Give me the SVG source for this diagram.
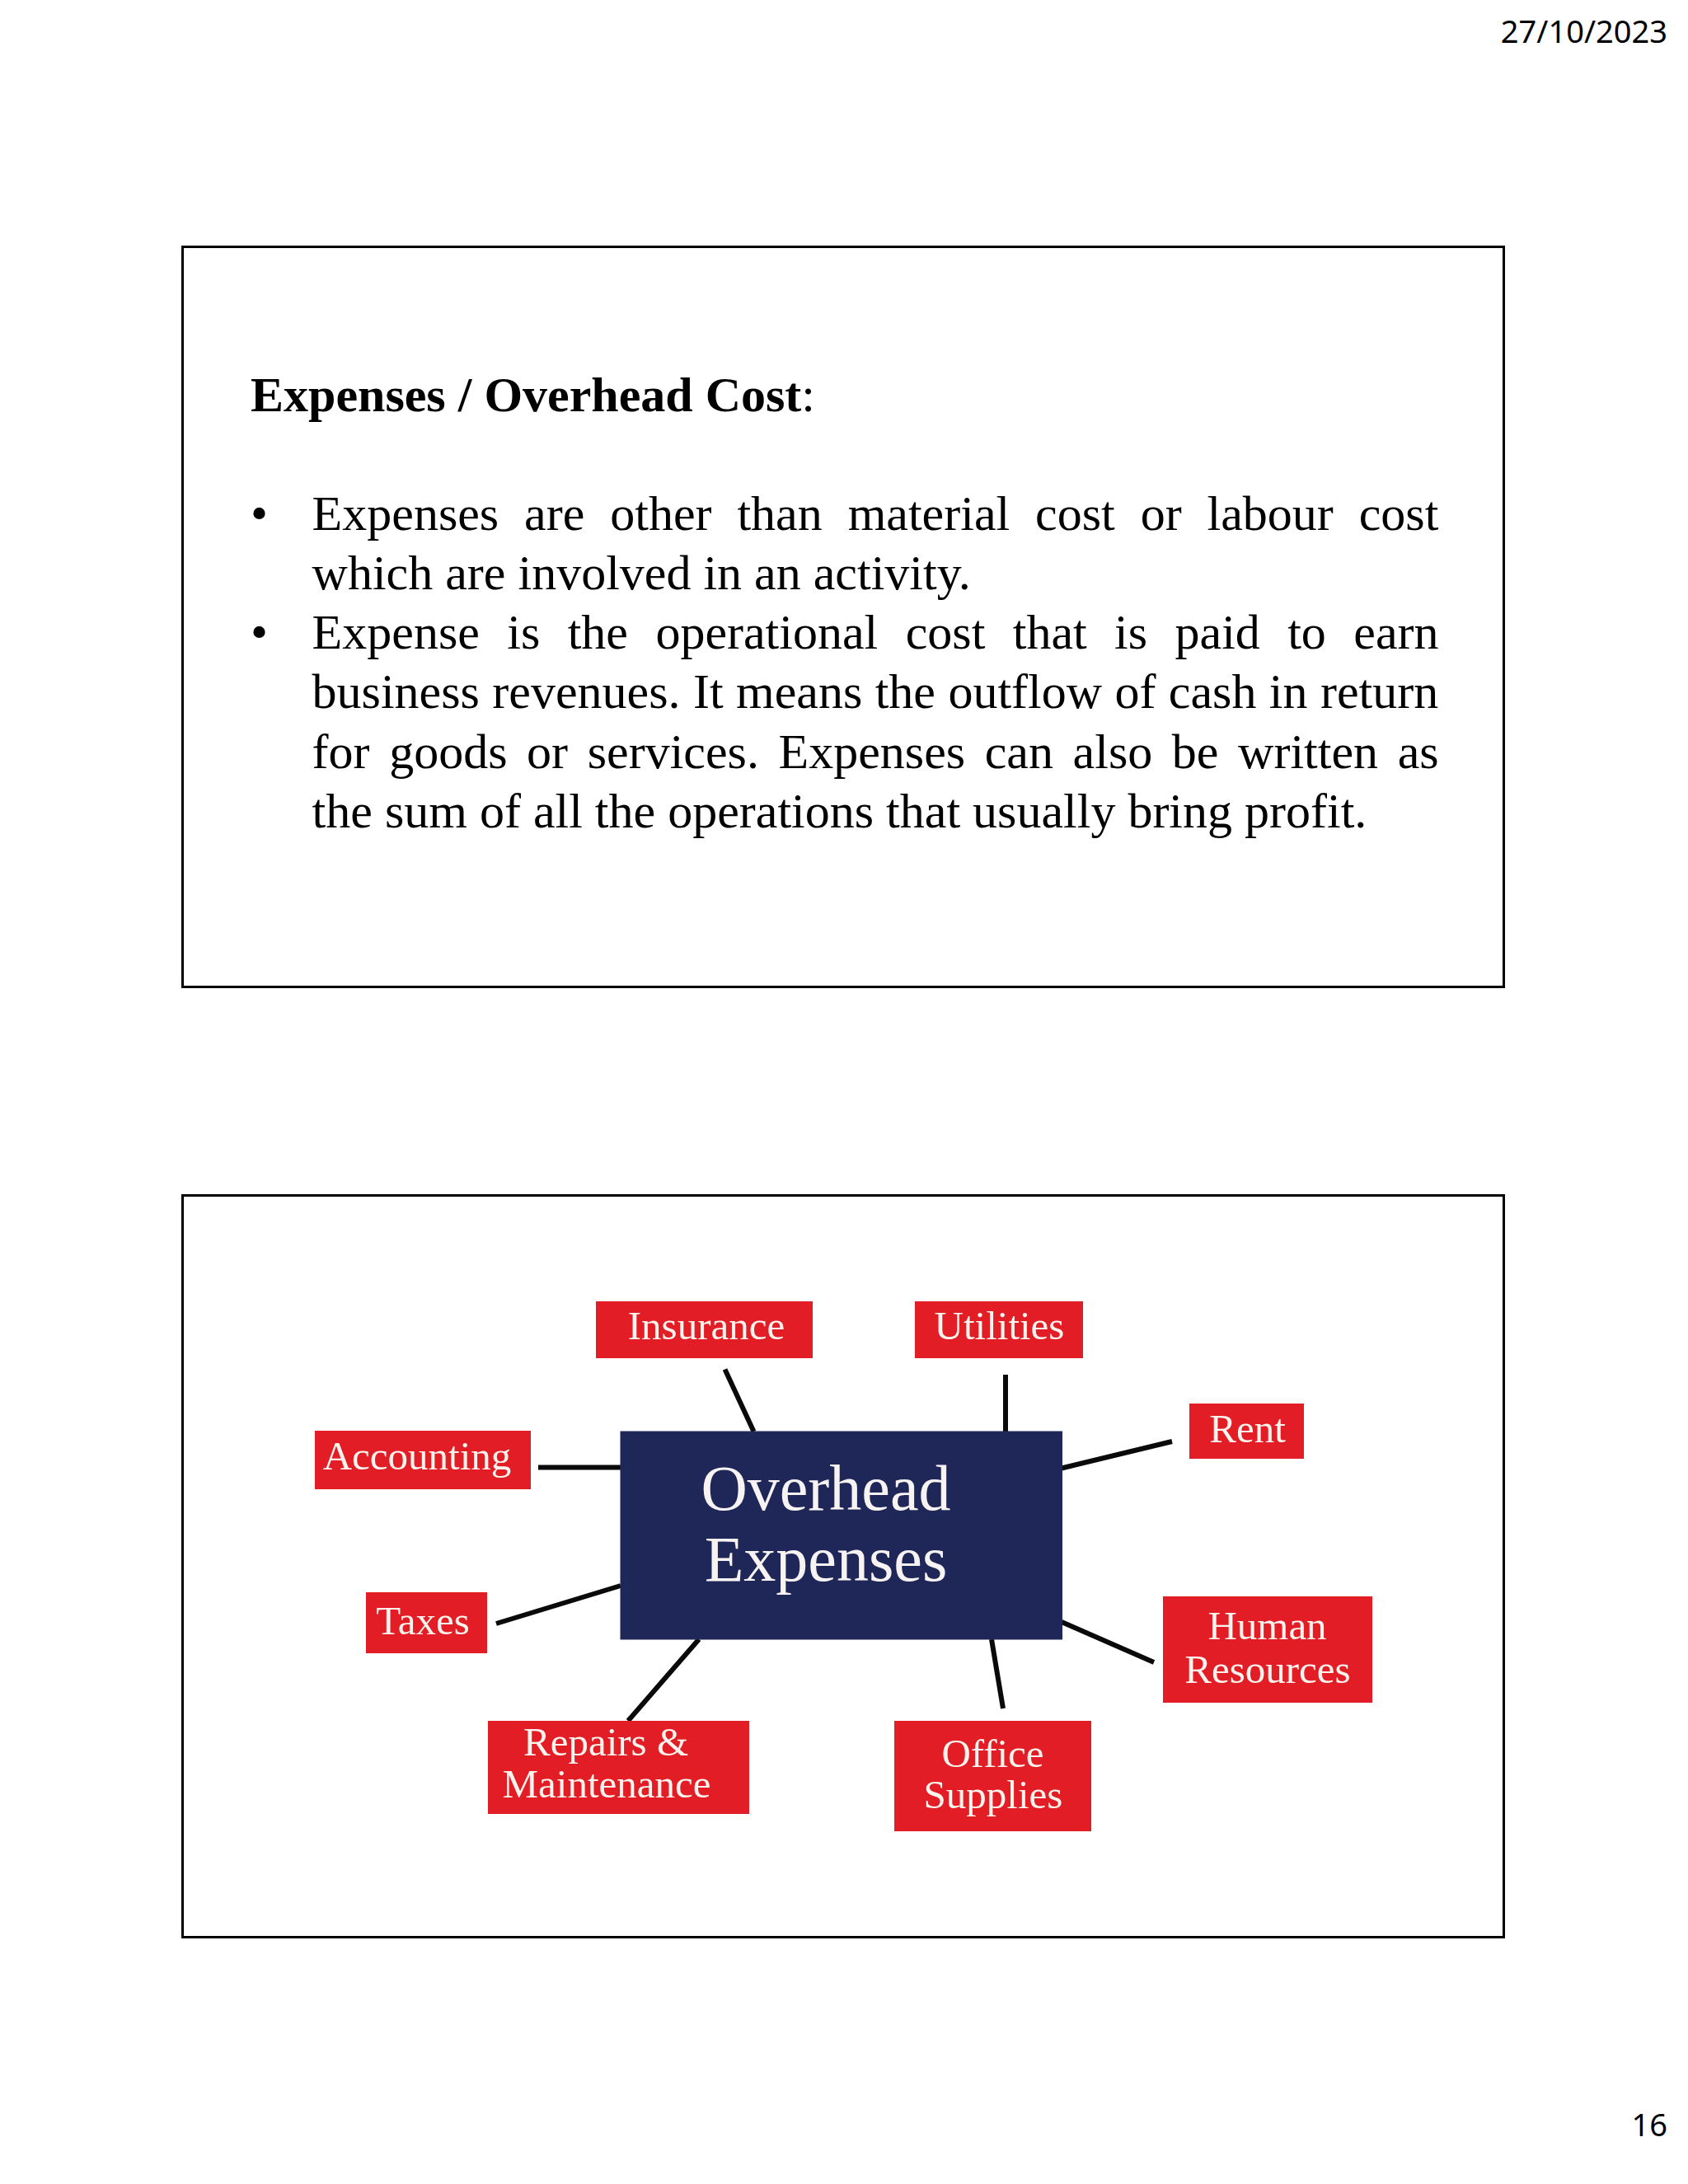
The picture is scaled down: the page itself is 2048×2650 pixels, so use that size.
<svg xmlns="http://www.w3.org/2000/svg" width="2048" height="2650" viewBox="0 0 2048 2650">
<style>
.hdr{font-family:"Noto Sans","Liberation Sans",sans-serif;font-size:38px;fill:#000;text-anchor:end}
.frame{fill:none;stroke:#000;stroke-width:3}
.body{font-family:"Liberation Serif","Times New Roman",serif;font-size:60px;fill:#000}
.title{font-family:"Liberation Serif","Times New Roman",serif;font-size:60px;fill:#000;font-weight:bold}
.red{fill:#e31d25}
.navy{fill:#1f2658}
.lbl{font-family:"Liberation Serif","DejaVu Serif",serif;font-size:49px;fill:#fbf4ee;text-anchor:middle}
.big{font-family:"Liberation Serif","DejaVu Serif",serif;font-size:78px;fill:#f6f3f2;text-anchor:middle}
.conn line{stroke:#0a0a0a;stroke-width:6}
</style>
<rect width="2048" height="2650" fill="#fff"/>
<text class="hdr" x="2023" y="51.5">27/10/2023</text>
<text class="hdr" x="2023" y="2592">16</text>

<g id="text-box">
<rect class="frame" x="221.5" y="299.5" width="1603" height="898"/>
<text class="title" x="304" y="498.5">Expenses / Overhead Cost<tspan font-weight="normal">:</tspan></text>
<text class="body" x="304" y="642.5">•</text>
<text class="body" x="378.6" y="642.5" word-spacing="15.9">Expenses are other than material cost or labour cost</text>
<text class="body" x="378.6" y="714.8">which are involved in an activity.</text>
<text class="body" x="304" y="787.1">•</text>
<text class="body" x="378.6" y="787.1" word-spacing="18.4">Expense is the operational cost that is paid to earn</text>
<text class="body" x="378.6" y="859.4" word-spacing="0.4">business revenues. It means the outflow of cash in return</text>
<text class="body" x="378.6" y="931.7" word-spacing="8.6">for goods or services. Expenses can also be written as</text>
<text class="body" x="378.6" y="1004">the sum of all the operations that usually bring profit.</text>
</g>

<rect class="frame" x="221.5" y="1450.5" width="1603" height="900"/>

<g id="connectors" class="conn">
<line x1="879.5" y1="1661.5" x2="914.5" y2="1737"/>
<line x1="1220" y1="1668" x2="1220" y2="1737"/>
<line x1="1288" y1="1781.5" x2="1422" y2="1749"/>
<line x1="653" y1="1780.5" x2="753" y2="1780.5"/>
<line x1="602" y1="1970" x2="753" y2="1924"/>
<line x1="1288" y1="1968" x2="1400" y2="2017"/>
<line x1="848" y1="1989" x2="762" y2="2088"/>
<line x1="1203" y1="1989" x2="1217" y2="2073"/>
</g>

<g id="center">
<rect class="navy" x="752.5" y="1736.5" width="536.5" height="253"/>
<text class="big" x="1002" y="1832">Overhead</text>
<text class="big" x="1002" y="1918">Expenses</text>
</g>

<g id="insurance">
<rect class="red" x="723" y="1579" width="263" height="69"/>
<text class="lbl" x="857" y="1625">Insurance</text>
</g>
<g id="utilities">
<rect class="red" x="1110" y="1579" width="204" height="69"/>
<text class="lbl" x="1212.5" y="1625">Utilities</text>
</g>
<g id="rent">
<rect class="red" x="1443" y="1703" width="139" height="67"/>
<text class="lbl" x="1513.5" y="1750">Rent</text>
</g>
<g id="accounting">
<rect class="red" x="382" y="1736" width="262" height="71"/>
<text class="lbl" x="506" y="1783">Accounting</text>
</g>
<g id="taxes">
<rect class="red" x="444" y="1932" width="147" height="74"/>
<text class="lbl" x="513" y="1983">Taxes</text>
</g>
<g id="human-resources">
<rect class="red" x="1411" y="1937" width="254" height="129"/>
<text class="lbl" x="1537.5" y="1989">Human</text>
<text class="lbl" x="1538" y="2041.5">Resources</text>
</g>
<g id="repairs">
<rect class="red" x="592" y="2088" width="317" height="113"/>
<text class="lbl" x="735" y="2130">Repairs &amp;</text>
<text class="lbl" x="736" y="2181">Maintenance</text>
</g>
<g id="office-supplies">
<rect class="red" x="1085" y="2088" width="239" height="134"/>
<text class="lbl" x="1204.5" y="2144">Office</text>
<text class="lbl" x="1205" y="2194">Supplies</text>
</g>
</svg>
